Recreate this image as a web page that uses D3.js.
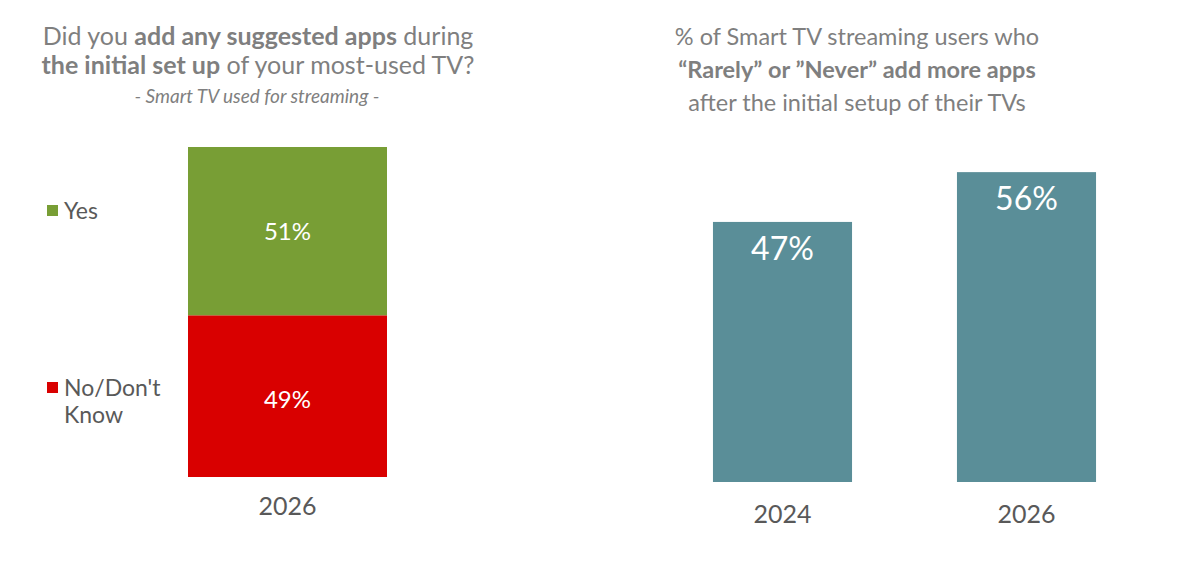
<!DOCTYPE html>
<html>
<head>
<meta charset="utf-8">
<script src="https://cdn.jsdelivr.net/npm/d3@7"></script>
<style>
  body { margin: 0; background: #fff; }
  svg { display: block; font-family: Lato, "Noto Sans", sans-serif; }
</style>
</head>
<body>
<div id="chart"></div>
<script>
// Left chart data
const leftYears = ['2026'];
const leftSeries = ['No/Don\'t Know', 'Yes'];
const leftYes = [51];
const leftNo = [49];

// Right chart data
const rightYears = ['2024', '2026'];
const rightValues = [47, 56];

const colors = { 'Yes': '#789e35', 'No/Don\'t Know': '#d90000' };
const teal = '#5a8e98';

const width = 1200;
const height = 562;

const svg = d3.select('#chart').append('svg')
  .attr('width', width)
  .attr('height', height);

// Titles

const leftTitle = svg.append('text')
  .attr('text-anchor', 'middle')
  .attr('fill', '#7f7f7f')
  .attr('font-size', 25);

const lt1 = leftTitle.append('tspan').attr('x', 258).attr('y', 45);
lt1.append('tspan').text('Did you ');
lt1.append('tspan').attr('font-weight', 'bold').text('add any suggested apps');
lt1.append('tspan').text(' during');

const lt2 = leftTitle.append('tspan').attr('x', 258).attr('y', 74);
lt2.append('tspan').attr('font-weight', 'bold').text('the initial set up');
lt2.append('tspan').text(' of your most-used TV?');

svg.append('text')
  .attr('x', 257)
  .attr('y', 103)
  .attr('text-anchor', 'middle')
  .attr('fill', '#7f7f7f')
  .attr('font-size', 19)
  .attr('font-style', 'italic')
  .text('- Smart TV used for streaming -');

const rightTitle = svg.append('text')
  .attr('text-anchor', 'middle')
  .attr('fill', '#7f7f7f')
  .attr('font-size', 23.5);

rightTitle.append('tspan').attr('x', 857).attr('y', 45)
  .text('% of Smart TV streaming users who');
rightTitle.append('tspan').attr('x', 857).attr('y', 78)
  .attr('font-weight', 'bold')
  .text('\u201cRarely\u201d or \u201dNever\u201d add more apps');
rightTitle.append('tspan').attr('x', 857).attr('y', 111)
  .text('after the initial setup of their TVs');

// Left stacked bar

const leftX = d3.scaleBand().domain(leftYears).range([188, 387]);
const leftY = d3.scaleLinear().domain([0, 100]).range([477, 147]);

const leftRows = leftYears.map((year, i) => ({
  year: year,
  'Yes': leftYes[i],
  'No/Don\'t Know': leftNo[i]
}));

const stacked = d3.stack().keys(leftSeries)(leftRows);

const layers = svg.selectAll('g.layer')
  .data(stacked)
  .enter()
  .append('g')
  .attr('class', 'layer')
  .attr('fill', (d) => colors[d.key]);

layers.selectAll('rect')
  .data((d) => d)
  .enter()
  .append('rect')
  .attr('x', (d) => leftX(d.data.year))
  .attr('width', leftX.bandwidth())
  .attr('y', (d) => leftY(d[1]))
  .attr('height', (d) => leftY(d[0]) - leftY(d[1]));

layers.selectAll('text')
  .data((d) => d)
  .enter()
  .append('text')
  .attr('x', (d) => leftX(d.data.year) + leftX.bandwidth() / 2)
  .attr('y', (d) => leftY(d[1]) + 93)
  .attr('text-anchor', 'middle')
  .attr('fill', '#fff')
  .attr('font-size', 24)
  .text((d) => (d[1] - d[0]) + '%');

const leftAxis = svg.append('g')
  .attr('transform', 'translate(0, 477)')
  .call(d3.axisBottom(leftX).tickSize(0).tickPadding(20));
leftAxis.select('.domain').remove();
leftAxis.selectAll('text')
  .attr('font-family', 'Lato, "Noto Sans", sans-serif')
  .attr('font-size', 25)
  .attr('fill', '#595959');

// Legend

const legendItems = [
  { key: 'Yes', lines: ['Yes'], y: 211 },
  { key: 'No/Don\'t Know', lines: ['No/Don\'t', 'Know'], y: 388 }
];

const legend = svg.selectAll('g.legend')
  .data(legendItems)
  .enter()
  .append('g')
  .attr('class', 'legend')
  .attr('transform', (d) => `translate(47, ${d.y})`);

legend.append('rect')
  .attr('x', 0)
  .attr('y', -6)
  .attr('width', 11)
  .attr('height', 11)
  .attr('fill', (d) => colors[d.key]);

legend.append('text')
  .attr('fill', '#595959')
  .attr('font-size', 23)
  .selectAll('tspan')
  .data((d) => d.lines)
  .enter()
  .append('tspan')
  .attr('x', 17)
  .attr('y', (d, i) => 8 + i * 27)
  .text((d) => d);

// Right bar chart

const rightX = d3.scaleBand()
  .domain(rightYears)
  .range([660.5, 1148.5])
  .paddingInner(0.43)
  .paddingOuter(0.215);
const rightY = d3.scaleLinear().domain([0, 60]).range([482, 150]);

svg.selectAll('rect.bar')
  .data(rightValues)
  .enter()
  .append('rect')
  .attr('class', 'bar')
  .attr('fill', teal)
  .attr('x', (d, i) => rightX(rightYears[i]))
  .attr('width', rightX.bandwidth())
  .attr('y', (d) => rightY(d))
  .attr('height', (d) => rightY(0) - rightY(d));

svg.selectAll('text.bar-label')
  .data(rightValues)
  .enter()
  .append('text')
  .attr('class', 'bar-label')
  .attr('x', (d, i) => rightX(rightYears[i]) + rightX.bandwidth() / 2)
  .attr('y', (d) => rightY(d) + 38)
  .attr('text-anchor', 'middle')
  .attr('fill', '#fff')
  .attr('font-size', 32)
  .text((d) => d + '%');

const rightAxis = svg.append('g')
  .attr('transform', 'translate(0, 482)')
  .call(d3.axisBottom(rightX).tickSize(0).tickPadding(23));
rightAxis.select('.domain').remove();
rightAxis.selectAll('text')
  .attr('font-family', 'Lato, "Noto Sans", sans-serif')
  .attr('font-size', 25)
  .attr('fill', '#595959');
</script>
</body>
</html>
